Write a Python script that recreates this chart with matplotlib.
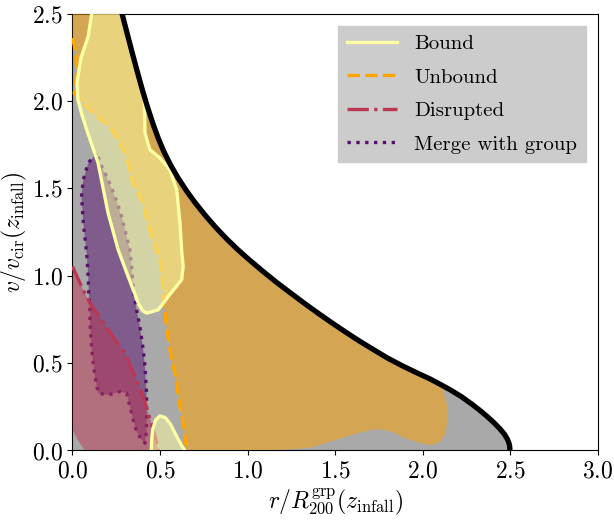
import matplotlib
matplotlib.use("Agg")
import matplotlib.pyplot as plt
import numpy as np
from matplotlib.patches import Polygon
from matplotlib.lines import Line2D

plt.rcParams.update({
    "font.family": "serif",
    "font.serif": ["cmr10"],
    "mathtext.fontset": "cm",
    "axes.formatter.use_mathtext": True,
    "font.size": 17,
})

# escape-velocity envelope
esc_r = [0.283, 0.310, 0.340, 0.370, 0.400, 0.430, 0.460, 0.490, 0.520, 0.560, 0.600,
         0.650, 0.700, 0.760, 0.820, 0.880, 0.940, 1.000, 1.080, 1.160, 1.240, 1.320,
         1.400, 1.480, 1.560, 1.640, 1.720, 1.800, 1.880, 1.960, 2.040, 2.100, 2.160,
         2.220, 2.280, 2.330, 2.370, 2.410, 2.440, 2.465, 2.482, 2.492, 2.496, 2.497]
esc_v = [2.500, 2.395, 2.280, 2.168, 2.060, 1.960, 1.868, 1.786, 1.714, 1.634, 1.564,
         1.487, 1.418, 1.343, 1.274, 1.211, 1.153, 1.099, 1.031, 0.966, 0.905, 0.845,
         0.787, 0.731, 0.677, 0.625, 0.576, 0.528, 0.486, 0.447, 0.410, 0.378, 0.345,
         0.308, 0.265, 0.226, 0.192, 0.155, 0.124, 0.094, 0.066, 0.041, 0.022, 0.0]

# Bound: main contour + small blob near the bottom
bound_r = [0.110, 0.090, 0.049, 0.026, 0.031, 0.054, 0.083, 0.146, 0.203, 0.261, 0.318,
           0.376, 0.40, 0.424, 0.490, 0.547, 0.585, 0.623, 0.632, 0.623, 0.614, 0.595,
           0.556, 0.499, 0.442, 0.414, 0.410]
bound_v = [2.50, 2.370, 2.248, 2.105, 2.007, 1.921, 1.830, 1.646, 1.360, 1.148, 0.995,
           0.843, 0.80, 0.786, 0.805, 0.881, 0.929, 0.977, 1.053, 1.148, 1.301, 1.492,
           1.607, 1.674, 1.721, 1.817, 2.030]
blob_r = [0.450, 0.452, 0.458, 0.475, 0.50, 0.53, 0.56, 0.595, 0.625, 0.642]
blob_v = [0.0, 0.06, 0.12, 0.175, 0.198, 0.188, 0.15, 0.08, 0.025, 0.0]

# Unbound: dashed contour and the unlined outer edge of the region
unbound_r = [0.0, 0.01, 0.02, 0.024, 0.018, 0.01, 0.035, 0.08, 0.13, 0.18, 0.22, 0.265,
             0.31, 0.338, 0.37, 0.404, 0.433, 0.47, 0.499, 0.51, 0.518, 0.528, 0.545,
             0.566, 0.585, 0.60, 0.614, 0.632, 0.652]
unbound_v = [2.36, 2.32, 2.25, 2.17, 2.09, 2.045, 2.015, 1.97, 1.92, 1.88, 1.84, 1.77,
             1.68, 1.55, 1.48, 1.416, 1.282, 1.17, 1.10, 1.0, 0.9, 0.78, 0.65,
             0.52, 0.44, 0.34, 0.25, 0.15, 0.0]
edge_r = [1.0, 1.2, 1.356, 1.47, 1.565, 1.65, 1.72, 1.774, 1.84, 1.90, 1.983, 2.05,
          2.10, 2.125, 2.14, 2.14, 2.136, 2.12, 2.107]
edge_v = [0.0, 0.004, 0.015, 0.05, 0.08, 0.105, 0.12, 0.12, 0.10, 0.07, 0.043, 0.03,
          0.05, 0.09, 0.16, 0.22, 0.27, 0.33, 0.375]

# Disrupted
disr_r = [0.0, 0.052, 0.10, 0.167, 0.243, 0.30, 0.357, 0.404, 0.433, 0.455, 0.475, 0.49]
disr_v = [1.053, 0.938, 0.843, 0.747, 0.633, 0.557, 0.423, 0.308, 0.213, 0.14, 0.07, 0.0]
disr_corner_r = [0.07, 0.03, 0.0]
disr_corner_v = [0.0, 0.06, 0.12]

# Merge with group
merge_r = [0.138, 0.09, 0.062, 0.052, 0.062, 0.081, 0.09, 0.094, 0.10, 0.10, 0.11, 0.128,
           0.147, 0.204, 0.271, 0.309, 0.328, 0.347, 0.366, 0.395, 0.414, 0.423, 0.423,
           0.414, 0.404, 0.385, 0.366, 0.347, 0.338, 0.328, 0.309, 0.281, 0.243, 0.204,
           0.167, 0.138]
merge_v = [1.702, 1.645, 1.549, 1.453, 1.301, 1.129, 0.995, 0.881, 0.805, 0.729, 0.576,
           0.423, 0.328, 0.318, 0.337, 0.328, 0.251, 0.175, 0.108, 0.06, 0.041, 0.117,
           0.328, 0.48, 0.576, 0.709, 0.805, 0.919, 1.053, 1.148, 1.224, 1.339, 1.453,
           1.549, 1.625, 1.702]

C_BOUND = "#fcffa4"
C_UNBOUND = "#ffa500"
C_DISR = "#bc3754"
C_MERGE = "#57106e"
LW = 2.4

esc_r, esc_v = np.array(esc_r), np.array(esc_v)

fig = plt.figure(figsize=(6.14, 5.22), dpi=100)
ax = fig.add_axes([0.118, 0.137, 0.856, 0.837])

# gray area allowed below the envelope
env = np.column_stack([np.r_[0, 0, esc_r], np.r_[0, 2.5, esc_v]])
gray = Polygon(env, closed=True, facecolor="#a9a9a9", edgecolor="none", zorder=1)
ax.add_patch(gray)


def region(xy, color, z):
    p = Polygon(xy, closed=True, facecolor=color, edgecolor="none", alpha=0.5, zorder=z)
    ax.add_patch(p)
    p.set_clip_path(gray)


# merge
region(np.column_stack([merge_r, merge_v]), C_MERGE, 2)
ax.plot(merge_r, merge_v, ls=":", color=C_MERGE, lw=LW, zorder=2.1)

# disrupted
region(np.column_stack([disr_r + disr_corner_r, disr_v + disr_corner_v]), C_DISR, 3)
ax.plot(disr_r, disr_v, ls="-.", color=C_DISR, lw=LW, zorder=3.1)

# unbound
m = esc_r <= edge_r[-1]
ur = np.r_[unbound_r, edge_r, esc_r[m][::-1], 0]
uv = np.r_[unbound_v, edge_v, esc_v[m][::-1], 2.5]
region(np.column_stack([ur, uv]), C_UNBOUND, 4)
ax.plot(unbound_r, unbound_v, ls="--", color=C_UNBOUND, lw=LW, zorder=4.1)

# bound
m = esc_r < bound_r[-1]
br = np.r_[bound_r, esc_r[m][::-1]]
bv = np.r_[bound_v, esc_v[m][::-1]]
region(np.column_stack([br, bv]), C_BOUND, 5)
region(np.column_stack([blob_r, blob_v]), C_BOUND, 5)
ax.plot(bound_r, bound_v, ls="-", color=C_BOUND, lw=LW, zorder=5.1)
ax.plot(blob_r, blob_v, ls="-", color=C_BOUND, lw=LW, zorder=5.1)

ax.plot(esc_r, esc_v, color="black", lw=3.8, zorder=6, solid_joinstyle="round")

ax.set_xlim(0, 3)
ax.set_ylim(0, 2.5)
ax.set_xticks(np.arange(0, 3.01, 0.5))
ax.set_yticks(np.arange(0, 2.51, 0.5))
ax.set_xlabel(r"$r/R_{200}^{\rm grp}(z_{\rm infall})$", labelpad=3)
ax.set_ylabel(r"$v/v_{\rm cir}(z_{\rm infall})$", labelpad=2)

handles = [
    Line2D([], [], color=C_BOUND, lw=LW, ls="-"),
    Line2D([], [], color=C_UNBOUND, lw=LW, ls="--"),
    Line2D([], [], color=C_DISR, lw=LW, ls="-."),
    Line2D([], [], color=C_MERGE, lw=LW, ls=":"),
]
labels = ["Bound", "Unbound", "Disrupted", "Merge with group"]
leg = ax.legend(handles, labels, loc="upper right", fancybox=False, framealpha=1,
                facecolor="#cccccc", edgecolor="#cccccc", fontsize=15,
                labelspacing=0.72, handlelength=2.4, handletextpad=0.85,
                borderaxespad=0.6)
leg.set_zorder(10)

fig.savefig("out.png", dpi=100)
